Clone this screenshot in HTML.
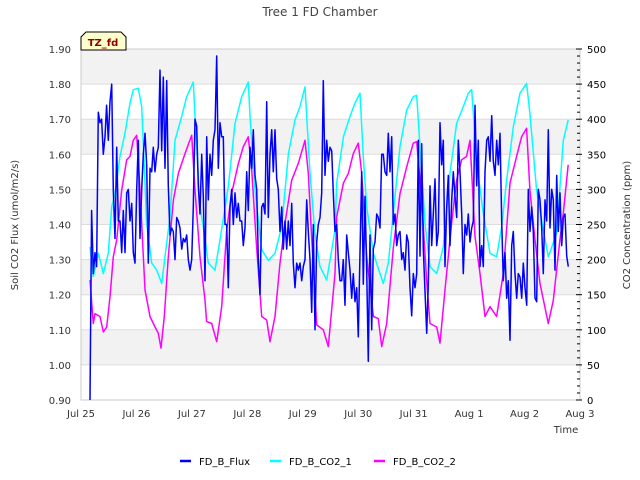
<!DOCTYPE html>
<html><head><meta charset="utf-8"><style>
body{margin:0;background:#fff;}
svg{display:block;font-family:"DejaVu Sans","Liberation Sans",sans-serif;}
</style></head><body>
<svg id="chart" width="640" height="480" viewBox="0 0 640 480">
<text x="320" y="16" text-anchor="middle" font-size="12" fill="#444">Tree 1 FD Chamber</text>
<g id="bands"></g><g id="grid"></g>
<rect x="81" y="49" width="499" height="351" fill="none" stroke="#ccc"/>
<g id="series"></g><g id="axes"></g>
<g>
<path d="M81,50 L81,37 L86,32 L121,32 L126,37 L126,50 Z" fill="#ffffcc" stroke="#000" stroke-width="1"/>
<text x="103" y="46" text-anchor="middle" font-size="10" font-weight="bold" fill="#8b0000">TZ_fd</text></g>
<text transform="translate(18,225) rotate(-90)" text-anchor="middle" font-size="10" fill="#333">Soil CO2 Flux (umol/m2/s)</text>
<text transform="translate(630,225) rotate(-90)" text-anchor="middle" font-size="10" fill="#333">CO2 Concentration (ppm)</text>
<text x="566" y="433" text-anchor="middle" font-size="10" fill="#333">Time</text>
<g id="legend"></g>
</svg>
<script>
const xTickLabels=["Jul 25","Jul 26","Jul 27","Jul 28","Jul 29","Jul 30","Jul 31","Aug 1","Aug 2","Aug 3"];
const leftTicks=[0.9,1.0,1.1,1.2,1.3,1.4,1.5,1.6,1.7,1.8,1.9];
const rightTicks=[0,50,100,150,200,250,300,350,400,450,500];
const fluxStart=0.162, fluxStep=0.030062;
const fluxValues=[0.90,1.44,1.26,1.32,1.28,1.72,1.69,1.70,1.60,1.65,1.74,1.64,1.75,1.80,1.50,1.36,1.62,1.41,1.41,1.32,1.44,1.32,1.49,1.50,1.41,1.46,1.32,1.29,1.50,1.64,1.36,1.50,1.60,1.66,1.57,1.29,1.56,1.55,1.62,1.55,1.60,1.62,1.84,1.61,1.82,1.56,1.81,1.51,1.37,1.39,1.38,1.30,1.42,1.41,1.39,1.33,1.36,1.35,1.37,1.30,1.27,1.30,1.45,1.70,1.68,1.51,1.43,1.60,1.48,1.24,1.65,1.47,1.60,1.54,1.64,1.67,1.88,1.56,1.69,1.65,1.65,1.40,1.40,1.22,1.45,1.50,1.40,1.49,1.42,1.46,1.41,1.41,1.34,1.39,1.55,1.44,1.62,1.56,1.67,1.54,1.50,1.30,1.20,1.45,1.46,1.43,1.75,1.42,1.60,1.67,1.55,1.67,1.53,1.50,1.38,1.45,1.33,1.41,1.33,1.41,1.34,1.46,1.29,1.22,1.29,1.27,1.29,1.24,1.28,1.30,1.47,1.38,1.30,1.15,1.40,1.10,1.35,1.40,1.42,1.49,1.81,1.54,1.64,1.58,1.62,1.61,1.49,1.38,
1.40,1.30,1.24,1.24,1.30,1.17,1.37,1.32,1.27,1.19,1.26,1.18,1.22,1.08,1.32,1.55,1.23,1.48,1.27,1.01,1.37,1.10,1.33,1.35,1.43,1.42,1.39,1.60,1.60,1.55,1.54,1.66,1.55,1.65,1.40,1.43,1.34,1.37,1.38,1.30,1.32,1.27,1.37,1.35,1.22,1.14,1.26,1.22,1.26,1.64,1.31,1.63,1.33,1.21,1.09,1.23,1.51,1.34,1.43,1.53,1.34,1.38,1.69,1.57,1.64,1.28,1.45,1.54,1.34,1.47,1.55,1.48,1.42,1.64,1.55,1.43,1.26,1.40,1.37,1.43,1.35,1.39,1.41,1.74,1.51,1.64,1.28,1.34,1.28,1.55,1.64,1.65,1.58,1.71,1.58,1.54,1.64,1.57,1.66,1.41,1.24,1.32,1.19,1.24,1.07,1.34,1.38,1.26,1.19,1.26,1.25,1.19,1.29,1.22,1.17,1.50,1.38,1.45,1.38,1.19,1.18,1.50,1.47,1.39,1.26,1.47,1.41,1.67,1.39,1.50,1.47,1.27,1.54,1.38,1.49,1.34,1.42,1.43,1.31,1.28];
const co2aTimes=[0.162,0.222,0.313,0.403,0.493,0.553,0.613,0.704,0.794,0.884,0.944,1.034,1.094,1.154,1.184,1.275,1.365,1.455,1.515,1.605,1.696,1.816,1.906,2.026,2.056,2.146,2.206,2.296,2.417,2.507,2.657,2.778,2.898,3.018,3.048,3.139,3.259,3.379,3.499,3.619,3.740,3.860,3.950,4.040,4.131,4.221,4.311,4.432,4.582,4.612,4.732,4.852,4.942,5.032,5.092,5.153,5.273,5.393,5.453,5.543,5.633,5.754,5.874,5.994,6.054,6.144,6.204,6.294,6.415,6.535,6.655,6.775,6.895,6.986,7.046,7.136,7.256,7.376,7.496,7.587,7.677,7.797,7.917,8.037,8.097,8.218,8.338,8.428,8.578,8.698,8.788];
const co2aValues=[218,176,209,180,209,275,294,347,380,423,442,444,418,309,252,195,185,166,204,261,370,404,432,453,404,275,247,195,185,228,304,394,432,453,404,299,214,199,209,247,351,399,418,446,323,237,190,171,242,309,375,404,423,437,347,275,209,180,166,195,266,361,413,432,434,323,252,190,180,218,323,394,418,437,442,337,266,209,204,247,313,389,437,451,408,299,242,204,237,370,399];
const co2bTimes=[0.162,0.222,0.253,0.343,0.403,0.463,0.523,0.583,0.643,0.734,0.824,0.884,0.944,1.004,1.064,1.154,1.244,1.335,1.395,1.443,1.503,1.575,1.666,1.756,1.876,1.996,2.056,2.146,2.236,2.266,2.357,2.447,2.537,2.627,2.717,2.838,2.928,3.018,3.078,3.168,3.259,3.349,3.409,3.499,3.589,3.679,3.800,3.920,4.040,4.100,4.160,4.251,4.371,4.461,4.582,4.612,4.732,4.822,4.912,5.002,5.062,5.153,5.273,5.363,5.423,5.514,5.634,5.754,5.874,5.994,6.054,6.144,6.234,6.294,6.415,6.475,6.565,6.685,6.775,6.865,6.955,7.016,7.106,7.196,7.286,7.376,7.496,7.617,7.737,7.857,7.947,8.037,8.097,8.188,8.278,8.428,8.518,8.638,8.698,8.788];
const co2bValues=[171,109,123,119,97,104,147,204,228,299,342,347,370,377,299,157,119,104,95,74,119,204,285,323,351,377,299,204,142,112,109,83,133,242,294,337,361,375,328,218,119,114,83,119,195,252,313,337,370,323,233,107,100,76,180,261,309,323,351,366,323,204,119,116,76,109,218,294,332,366,368,285,171,109,104,81,157,252,313,342,347,370,233,180,119,133,119,180,309,347,375,387,299,228,166,109,142,228,266,335];

const NS="http://www.w3.org/2000/svg";
const X0=81,X1=580,Y0=400,Y1=49;
const xs=t=>X0+t*(X1-X0)/9;
const yL=v=>Y0-(v-0.9)*(Y0-Y1)/1.0;
const yR=v=>Y0-v*(Y0-Y1)/500;
function mk(tag,attrs,parent){const e=document.createElementNS(NS,tag);for(const k in attrs)e.setAttribute(k,attrs[k]);parent.appendChild(e);return e;}
const bands=document.getElementById('bands'),grid=document.getElementById('grid'),axes=document.getElementById('axes'),series=document.getElementById('series'),legend=document.getElementById('legend');
[1.0,1.2,1.4,1.6,1.8].forEach(v=>{
 const r=mk('rect',{x:X0,y:yL(v+0.1),width:X1-X0,height:yL(v)-yL(v+0.1),fill:'#f2f2f2'},bands);
 
 
});
leftTicks.forEach(v=>{
 const l=mk('line',{x1:X0,x2:X1,y1:yL(v),y2:yL(v),stroke:'#ddd','stroke-width':1},grid);
 
 
 const t=mk('text',{x:71,y:yL(v)+4,'text-anchor':'end','font-size':10,fill:'#333'},axes);
 t.textContent=v.toFixed(2);
 
 
});
rightTicks.forEach(v=>{
 const t=mk('text',{x:587,y:yR(v)+4,'font-size':10,fill:'#000'},axes);
 t.textContent=v;
 
 
 const m=mk('line',{x1:576,x2:582,y1:yR(v),y2:yR(v),stroke:'#000','stroke-width':1},axes);
 
 
});
for(let v=10;v<500;v+=10){if(v%50===0)continue;
 const m=mk('line',{x1:577,x2:580,y1:yR(v),y2:yR(v),stroke:'#000','stroke-width':1},axes);
 
 
}
xTickLabels.forEach((s,i)=>{
 const t=mk('text',{x:xs(i),y:417,'text-anchor':'middle','font-size':10,fill:'#333'},axes);
 t.textContent=s;
 
 
});
function draw(pts,color,name){
 const p=mk('polyline',{points:pts.map(q=>q[0].toFixed(1)+','+q[1].toFixed(1)).join(' '),fill:'none',stroke:color,'stroke-width':1.5,'stroke-linejoin':'round'},series);
 
 
}
draw(co2aTimes.map((t,i)=>[xs(t),yR(co2aValues[i])]),'#00ffff','series-fd-b-co2-1');
draw(co2bTimes.map((t,i)=>[xs(t),yR(co2bValues[i])]),'#ff00ff','series-fd-b-co2-2');
draw(fluxValues.map((v,i)=>[xs(fluxStart+i*fluxStep),yL(v)]),'#0000ff','series-fd-b-flux');
const leg=[["FD_B_Flux","#0000ff",180],["FD_B_CO2_1","#00ffff",270],["FD_B_CO2_2","#ff00ff",374]];
leg.forEach(([s,c,x])=>{
 const g=mk('g',{},legend);
 
 
 mk('line',{x1:x,x2:x+11,y1:461,y2:461,stroke:c,'stroke-width':2.5},g);
 const t=mk('text',{x:x+19,y:465,'font-size':10,fill:'#000'},g);
 t.textContent=s;
});
</script>
</body></html>
